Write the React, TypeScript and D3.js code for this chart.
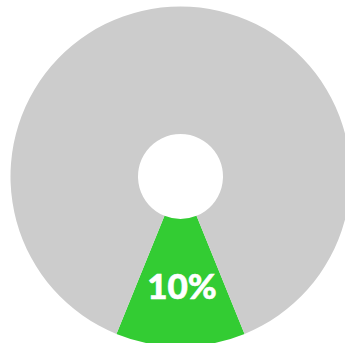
import React from "react";
import * as d3 from "d3";

const categories = ["highlight", "rest"];
const values = [12.3, 87.7];
const labels = ["10%", ""];
const colors = ["#33cc33", "#cccccc"];

const W = 345;
const H = 343;
const cx = 180.5;
const cy = 176.5;
const outerR = 170;
const innerR = 42.5;

export default function App() {
  const total = d3.sum(values);
  const g = (values[0] / total) * 2 * Math.PI;
  const start = Math.PI - g / 2;
  const pie = d3
    .pie<number>()
    .sort(null)
    .value((d) => d)
    .startAngle(start)
    .endAngle(start + 2 * Math.PI);
  const arcs = pie(values);
  const arc = d3.arc<d3.PieArcDatum<number>>().innerRadius(innerR).outerRadius(outerR);

  return (
    <svg
      width={W}
      height={H}
      style={{ position: "absolute", left: 0, top: 0, background: "#fff" }}
    >
      <g transform={`translate(${cx},${cy})`}>
        {arcs.map((a, i) => (
          <path key={categories[i]} d={arc(a) || ""} fill={colors[i]} />
        ))}
        {arcs.map((a, i) => {
          if (!labels[i]) return null;
          const [x, y] = arc.centroid(a);
          return (
            <text
              key={"l" + i}
              x={x + 1.5}
              y={y + 16.5}
              textAnchor="middle"
              fill="#ffffff"
              fontFamily="Lato, sans-serif"
              fontWeight={900}
              fontSize={35}
              stroke="#ffffff"
              strokeWidth={0.6}
            >
              {labels[i]}
            </text>
          );
        })}
      </g>
    </svg>
  );
}
